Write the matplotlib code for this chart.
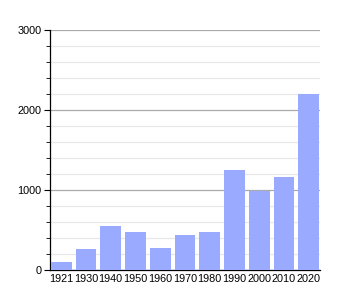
import matplotlib.pyplot as plt
from matplotlib.ticker import MultipleLocator

years = ["1921", "1930", "1940", "1950", "1960", "1970", "1980", "1990", "2000", "2010", "2020"]
population = [95, 265, 550, 478, 278, 435, 472, 1250, 985, 1165, 2195]

plt.rcParams["font.family"] = ["Liberation Sans", "DejaVu Sans"]

fig = plt.figure(figsize=(3.5, 3.0), dpi=100)
ax = fig.add_axes([0.143, 0.1, 0.771, 0.8])

x = range(len(years))
ax.bar(x, population, width=0.84, color="#99aaff", zorder=3)

ax.set_xlim(-0.45, len(years) - 0.55)
ax.set_ylim(0, 3000)
ax.yaxis.set_major_locator(MultipleLocator(1000))
ax.yaxis.set_minor_locator(MultipleLocator(200))
ax.grid(axis="y", which="major", color="#aaaaaa", linewidth=0.9, zorder=0)
ax.grid(axis="y", which="minor", color="#e8e8e8", linewidth=0.9, zorder=0)

ax.set_xticks(list(x))
ax.set_xticklabels(years)
ax.tick_params(axis="x", length=0, labelsize=7.8, pad=3)
ax.tick_params(axis="y", which="major", length=4, labelsize=7.8, pad=2)
ax.tick_params(axis="y", which="minor", length=3)

for side in ["top", "right"]:
    ax.spines[side].set_visible(False)
ax.spines["left"].set_linewidth(0.9)
ax.spines["bottom"].set_linewidth(0.9)

fig.savefig("out.png", dpi=100)
